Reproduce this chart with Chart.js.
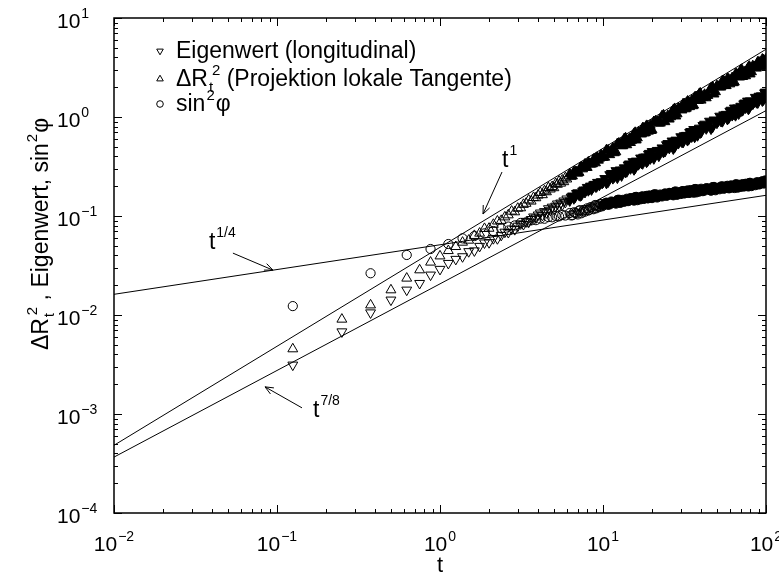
<!DOCTYPE html>
<html lang="de">
<head>
<meta charset="utf-8">
<title>ΔR², Eigenwert, sin²φ gegen t</title>
<script src="https://cdn.jsdelivr.net/npm/chart.js@4.4.1/dist/chart.umd.min.js"></script>
<style>
  html, body { margin: 0; padding: 0; background: #fff; }
  #chart { display: block; }
</style>
</head>
<body>
<canvas id="chart" width="779" height="576"></canvas>
<script>
const FONT = '"Liberation Sans", Arial, Helvetica, sans-serif';

// sampling times
const tTriEarly = [0.125, 0.25, 0.375, 0.5, 0.625, 0.75, 0.875, 1, 1.125, 1.25, 1.375, 1.5, 1.625, 1.75, 1.875, 2,
  2.125, 2.25, 2.375, 2.5, 2.625, 2.75, 2.875, 3, 3.125, 3.25, 3.375, 3.5, 3.625, 3.75, 3.875, 4,
  4.125, 4.25, 4.375, 4.5, 4.625, 4.75, 4.875, 5, 5.125, 5.25, 5.375, 5.5, 5.625, 5.75, 5.875, 6];
const tCircEarly = [0.125, 0.375, 0.625, 0.875, 1.125, 1.375, 1.625, 1.875, 2.125, 2.375, 2.625, 2.875,
  3.125, 3.375, 3.625, 3.875, 4.125, 4.375, 4.625, 4.875, 5.125, 5.375, 5.625, 5.875];
const tLateA = [6.25, 6.5, 6.75, 7, 7.25, 7.5, 7.75, 8, 8.25, 8.5, 8.75, 9, 9.25, 9.5, 9.75, 10,
  10.5, 11, 11.5, 12, 12.5, 13, 13.5, 14, 14.5, 15, 15.5, 16, 16.5, 17, 17.5, 18, 18.5, 19, 19.5, 20,
  21, 22, 23, 24, 25, 26, 27, 28, 29, 30, 31, 32, 33, 34, 35, 36, 37, 38, 39, 40,
  42, 44, 46, 48, 50, 52, 54, 56, 58, 60, 62, 64, 66, 68, 70, 72, 74, 76, 78, 80,
  83, 86, 89, 92, 95, 98, 100];
const tLateB = [6.375, 6.625, 6.875, 7.125, 7.375, 7.625, 7.875, 8.125, 8.375, 8.625, 8.875, 9.125, 9.375, 9.625, 9.875,
  10.25, 10.75, 11.25, 11.75, 12.25, 12.75, 13.25, 13.75, 14.25, 14.75, 15.25, 15.75, 16.25, 16.75, 17.25, 17.75, 18.25, 18.75, 19.25, 19.75,
  20.5, 21.5, 22.5, 23.5, 24.5, 25.5, 26.5, 27.5, 28.5, 29.5, 30.5, 31.5, 32.5, 33.5, 34.5, 35.5, 36.5, 37.5, 38.5, 39.5,
  41, 43, 45, 47, 49, 51, 53, 55, 57, 59, 61, 63, 65, 67, 69, 71, 73, 75, 77, 79,
  81.5, 84.5, 87.5, 90.5, 93.5, 96.5, 99];

// Eigenwert (longitudinal)
const eigenwertEarly = [0.00313, 0.00678, 0.01054, 0.0142, 0.0179, 0.0209, 0.0254, 0.0290, 0.0333, 0.0366,
  0.0389, 0.0438, 0.0446, 0.0495, 0.0536, 0.0540, 0.0593, 0.0592, 0.0640, 0.0689,
  0.0684, 0.0742, 0.0732, 0.0792, 0.0836, 0.0824, 0.0886, 0.0870, 0.0924, 0.0981, 0.0960, 0.1027,
  0.1075, 0.1019, 0.1111, 0.1083, 0.1188, 0.1146, 0.1232, 0.1174, 0.1261, 0.1327, 0.1263, 0.1356, 0.1301, 0.1422, 0.1379, 0.1490];
const eigenwertLateA = [0.1426, 0.1597, 0.1556, 0.1720, 0.1605, 0.1791, 0.1736, 0.1950, 0.1871, 0.1843, 0.2069, 0.1978, 0.2192, 0.2052, 0.2230, 0.2190,
  0.2145, 0.2622, 0.2397, 0.2880, 0.2632, 0.2554, 0.3075, 0.2814, 0.3365, 0.3211, 0.2944, 0.3598, 0.3316, 0.3863, 0.3381, 0.3874, 0.3510, 0.4217, 0.3793, 0.4491,
  0.4132, 0.4037, 0.4888, 0.4499, 0.5405, 0.5183, 0.4773, 0.5857, 0.5417, 0.6335, 0.5561, 0.6392, 0.5809, 0.6998, 0.6314, 0.7492, 0.6766, 0.6496, 0.7741, 0.7016,
  0.8489, 0.8191, 0.7586, 0.9357, 0.8701, 1.0222, 0.9014, 1.0402, 0.9488, 1.1472, 1.0383, 1.2360, 1.1194, 1.0778, 1.2874, 1.1700, 1.3893, 1.3176, 1.2010, 1.4597,
  1.3523, 1.5836, 1.3922, 1.6023, 1.4575, 1.7577, 1.5738];
const eigenwertLateB = [0.1555, 0.1500, 0.1694, 0.1631, 0.1629, 0.1836, 0.1833, 0.1809, 0.2011, 0.1926, 0.2095, 0.1980, 0.2154, 0.2140, 0.2144,
  0.2397, 0.2212, 0.2698, 0.2493, 0.2425, 0.2927, 0.2911, 0.2771, 0.3284, 0.3009, 0.3549, 0.3053, 0.3545, 0.3464, 0.3411, 0.3939, 0.3960, 0.3590, 0.4304, 0.3918,
  0.3797, 0.4609, 0.4614, 0.4417, 0.5263, 0.4843, 0.5738, 0.4956, 0.5779, 0.5670, 0.5600, 0.6487, 0.6543, 0.5949, 0.7154, 0.6526, 0.6273, 0.7480, 0.7365, 0.6939,
  0.8236, 0.7630, 0.9096, 0.7901, 0.9262, 0.9130, 0.9058, 1.0536, 1.0666, 0.9736, 1.1745, 1.0750, 1.0362, 1.2394, 1.2235, 1.1559, 1.3606, 1.2381, 1.4517, 1.2413,
  1.4419, 1.4166, 1.4010, 1.6248, 1.6406, 1.4935, 1.7899];

// ΔR_t² (Projektion lokale Tangente)
const deltaR2Early = [0.00454, 0.00905, 0.0126, 0.0179, 0.0235, 0.0285, 0.0341, 0.0394, 0.0446, 0.0490,
  0.0542, 0.0568, 0.0634, 0.0669, 0.0746, 0.0750, 0.0821, 0.0887, 0.0900, 0.0976,
  0.1024, 0.1116, 0.1099, 0.1194, 0.1206, 0.1306, 0.1340, 0.1446, 0.1410, 0.1534, 0.1523, 0.1620,
  0.1720, 0.1636, 0.1789, 0.1751, 0.1929, 0.1867, 0.1975, 0.1925, 0.2117, 0.2084, 0.2241, 0.2140, 0.2301, 0.2214, 0.2427, 0.2358];
const deltaR2LateA = [0.2664, 0.2533, 0.2795, 0.2700, 0.3061, 0.2984, 0.3335, 0.3086, 0.3383, 0.3347, 0.3730, 0.3435, 0.3868, 0.3818, 0.4156, 0.3898,
  0.4647, 0.4153, 0.4856, 0.4434, 0.5430, 0.5120, 0.6029, 0.5229, 0.6005, 0.5786, 0.6796, 0.5846, 0.7034, 0.6764, 0.7744, 0.6870, 0.8187, 0.7174, 0.8234, 0.7389,
  0.9100, 0.8643, 1.0247, 0.8942, 1.0328, 1.0004, 1.1810, 1.0206, 1.2332, 1.1907, 1.3550, 1.2062, 1.4424, 1.2680, 1.4596, 1.3137, 1.5876, 1.4781, 1.7203, 1.4757,
  1.6879, 1.6469, 1.9574, 1.7021, 2.0685, 2.0078, 2.3191, 2.0740, 2.4403, 2.1539, 2.4889, 2.2481, 2.7259, 2.5461, 2.9722, 2.5569, 2.8456, 2.7219, 3.1758, 2.7144,
  3.2856, 3.1774, 3.5894, 3.1998, 3.8314, 3.3722, 3.8480];
const deltaR2LateB = [0.2510, 0.2798, 0.2791, 0.2748, 0.3144, 0.3158, 0.3101, 0.3497, 0.3332, 0.3362, 0.3711, 0.3890, 0.3654, 0.3947, 0.3929,
  0.3912, 0.4627, 0.4568, 0.4342, 0.5372, 0.5332, 0.5111, 0.6141, 0.5612, 0.5510, 0.6502, 0.6971, 0.6136, 0.6869, 0.6724, 0.7711, 0.6965, 0.8070, 0.7816, 0.7297,
  0.8967, 0.8969, 0.8657, 1.0470, 0.9625, 0.9502, 1.1270, 1.2140, 1.0735, 1.2067, 1.1742, 1.3516, 1.2251, 1.4240, 1.3835, 1.2955, 1.5808, 1.5489, 1.4667, 1.7424,
  1.5669, 1.5587, 1.8617, 2.0185, 1.7955, 2.0295, 2.0047, 2.3187, 2.0682, 2.4140, 2.3546, 2.2129, 2.7097, 2.6638, 2.5302, 3.0147, 2.6695, 2.6013, 3.0480, 3.2463,
  2.8575, 3.2176, 3.1080, 3.5829, 3.2519, 3.7847, 3.6630];

// sin²φ
const sin2phiEarly = [0.0123, 0.0264, 0.0404, 0.0464, 0.0521, 0.0595, 0.0628, 0.0668, 0.0705, 0.0750,
  0.0782, 0.0803, 0.0851, 0.0862, 0.0904, 0.0908, 0.0941, 0.0938, 0.0976, 0.0971, 0.1003, 0.0992, 0.1024, 0.1011];
const sin2phiLateA = [0.1071, 0.1019, 0.1076, 0.1037, 0.1144, 0.1109, 0.1106, 0.1195, 0.1156, 0.1224, 0.1171, 0.1290, 0.1255, 0.1232, 0.1324, 0.1274,
  0.1365, 0.1310, 0.1384, 0.1334, 0.1461, 0.1406, 0.1392, 0.1494, 0.1436, 0.1510, 0.1430, 0.1560, 0.1510, 0.1474, 0.1576, 0.1509, 0.1597, 0.1513, 0.1586, 0.1517,
  0.1659, 0.1594, 0.1576, 0.1689, 0.1622, 0.1703, 0.1618, 0.1768, 0.1710, 0.1668, 0.1785, 0.1710, 0.1811, 0.1717, 0.1798, 0.1718, 0.1872, 0.1792, 0.1765, 0.1885,
  0.1808, 0.1897, 0.1800, 0.1966, 0.1905, 0.1862, 0.1993, 0.1911, 0.2019, 0.1911, 0.2003, 0.1917, 0.2090, 0.2000, 0.1969, 0.2101, 0.2009, 0.2101, 0.1987, 0.2163,
  0.2095, 0.2047, 0.2189, 0.2112, 0.2245, 0.2144, 0.2252];
const sin2phiLateB = [0.1014, 0.1089, 0.1061, 0.1134, 0.1066, 0.1153, 0.1150, 0.1135, 0.1226, 0.1186, 0.1279, 0.1197, 0.1275, 0.1315, 0.1253,
  0.1338, 0.1297, 0.1401, 0.1366, 0.1453, 0.1356, 0.1456, 0.1442, 0.1413, 0.1516, 0.1455, 0.1555, 0.1445, 0.1530, 0.1571, 0.1489, 0.1576, 0.1508, 0.1612, 0.1559,
  0.1650, 0.1538, 0.1649, 0.1632, 0.1598, 0.1712, 0.1643, 0.1760, 0.1637, 0.1732, 0.1779, 0.1687, 0.1786, 0.1711, 0.1828, 0.1767, 0.1867, 0.1733, 0.1851, 0.1825,
  0.1782, 0.1908, 0.1830, 0.1957, 0.1821, 0.1931, 0.1985, 0.1884, 0.1994, 0.1906, 0.2036, 0.1970, 0.2083, 0.1934, 0.2066, 0.2035, 0.1984, 0.2117, 0.2024, 0.2158,
  0.2005, 0.2123, 0.2184, 0.2081, 0.2213, 0.2129, 0.2287];

// power-law guide lines, given by their values at both ends of the t range
const guideT = [0.01, 100];
const guideSlope1 = [4.83e-4, 4.83];
const guideSlope78 = [3.67e-4, 1.16];
const guideSlope14 = [0.01618, 0.1618];

// axis decades (exponents of the labelled ticks)
const xDecades = [-2, -1, 0, 1, 2];
const yDecades = [-4, -3, -2, -1, 0, 1];

const pts = (ts, vs) => ts.map((t, i) => ({ x: t, y: vs[i] }));
const series = (parts) => parts.flatMap(([ts, vs]) => pts(ts, vs));

// text made of runs: {s, f: font px, dy: baseline shift, dx: gap before, stay: do not advance}
function drawRuns(ctx, runs, x, y, measureOnly) {
  let cx = x;
  for (const r of runs) {
    ctx.font = `${r.f}px ${FONT}`;
    const w = ctx.measureText(r.s).width;
    const px = cx + (r.dx || 0);
    if (!measureOnly) ctx.fillText(r.s, px, y + (r.dy || 0));
    if (!r.stay) cx = px + w;
  }
  return cx - x;
}

function powerLabel(exp) {
  const sup = exp < 0 ? '\u2212' + (-exp) : String(exp);
  return [{ s: '10', f: 21 }, { s: sup, f: 14, dy: -10, dx: 1 }];
}

const framePlugin = {
  id: 'frameTicks',
  afterDatasetsDraw(chart) {
    const { ctx, chartArea: a, scales: { x, y } } = chart;
    ctx.save();
    ctx.strokeStyle = '#000';
    ctx.lineWidth = 1;
    ctx.beginPath();
    for (let e = xDecades[0]; e <= xDecades[xDecades.length - 1]; e++) {
      for (let m = 1; m <= 9; m++) {
        const v = m * Math.pow(10, e);
        if (v > x.max * 1.0001) break;
        const px = Math.round(x.getPixelForValue(v)) + 0.5;
        const len = m === 1 ? 8 : 4;
        ctx.moveTo(px, a.bottom); ctx.lineTo(px, a.bottom - len);
        ctx.moveTo(px, a.top); ctx.lineTo(px, a.top + len);
      }
    }
    for (let e = yDecades[0]; e <= yDecades[yDecades.length - 1]; e++) {
      for (let m = 1; m <= 9; m++) {
        const v = m * Math.pow(10, e);
        if (v > y.max * 1.0001) break;
        const py = Math.round(y.getPixelForValue(v)) + 0.5;
        const len = m === 1 ? 8 : 4;
        ctx.moveTo(a.left, py); ctx.lineTo(a.left + len, py);
        ctx.moveTo(a.right, py); ctx.lineTo(a.right - len, py);
      }
    }
    ctx.stroke();
    ctx.lineWidth = 1.5;
    ctx.strokeRect(a.left, a.top, a.right - a.left, a.bottom - a.top);
    ctx.restore();
  }
};

const labelPlugin = {
  id: 'axisLabels',
  afterDraw(chart) {
    const { ctx, chartArea: a, scales: { x, y } } = chart;
    ctx.save();
    ctx.fillStyle = '#000';
    ctx.textBaseline = 'alphabetic';
    ctx.textAlign = 'left';
    for (const e of xDecades) {
      const runs = powerLabel(e);
      const w = drawRuns(ctx, runs, 0, 0, true);
      drawRuns(ctx, runs, x.getPixelForValue(Math.pow(10, e)) - w / 2, a.bottom + 38);
    }
    for (const e of yDecades) {
      drawRuns(ctx, powerLabel(e), 57, y.getPixelForValue(Math.pow(10, e)) + 10);
    }
    // x title
    ctx.font = `22px ${FONT}`;
    const tw = ctx.measureText('t').width;
    ctx.fillText('t', (a.left + a.right) / 2 - tw / 2, a.bottom + 59);
    // y title
    const title = [
      { s: '\u0394R', f: 23 },
      { s: 't', f: 15, dy: 6, dx: 1, stay: true },
      { s: '2', f: 15, dy: -11, dx: 3 },
      { s: ' , Eigenwert, sin', f: 23 },
      { s: '2', f: 15, dy: -11, dx: 1 },
      { s: '\u03C6', f: 23, dx: 1 }
    ];
    const w = drawRuns(ctx, title, 0, 0, true);
    ctx.translate(48, 234);
    ctx.rotate(-Math.PI / 2);
    drawRuns(ctx, title, -w / 2, 0);
    ctx.restore();
  }
};

const legendPlugin = {
  id: 'keyBox',
  afterDraw(chart) {
    const { ctx } = chart;
    const rows = [
      { style: { pointStyle: 'triangle', rotation: 180, radius: 3.8, borderWidth: 1 }, base: 58,
        runs: [{ s: 'Eigenwert (longitudinal)', f: 23 }] },
      { style: { pointStyle: 'triangle', rotation: 0, radius: 3.8, borderWidth: 1 }, base: 86,
        runs: [{ s: '\u0394R', f: 23 }, { s: 't', f: 15, dy: 6, dx: 1, stay: true },
               { s: '2', f: 15, dy: -11, dx: 4 }, { s: ' (Projektion lokale Tangente)', f: 23 }] },
      { style: { pointStyle: 'circle', rotation: 0, radius: 3.3, borderWidth: 1 }, base: 111,
        runs: [{ s: 'sin', f: 23 }, { s: '2', f: 15, dy: -11, dx: 1 }, { s: '\u03C6', f: 23, dx: 1 }] }
    ];
    ctx.save();
    for (const r of rows) {
      ctx.strokeStyle = '#000';
      ctx.fillStyle = 'rgba(0,0,0,0)';
      ctx.lineWidth = 1;
      Chart.helpers.drawPoint(ctx, r.style, 160, r.base - 7);
      ctx.fillStyle = '#000';
      ctx.textBaseline = 'alphabetic';
      ctx.textAlign = 'left';
      drawRuns(ctx, r.runs, 176, r.base);
    }
    ctx.restore();
  }
};

const notesPlugin = {
  id: 'guideNotes',
  afterDraw(chart) {
    const { ctx, scales: { x, y } } = chart;
    const notes = [
      { tip: [0.0944, 0.0284], tail: [-40, -17], label: [-64, -21], exp: '1/4' },
      { tip: [0.0844, 0.00188], tail: [37, 21], label: [48, 30], exp: '7/8' },
      { tip: [1.836, 0.1047], tail: [19, -42], label: [19, -47], exp: '1' }
    ];
    ctx.save();
    ctx.strokeStyle = '#000';
    ctx.fillStyle = '#000';
    ctx.lineWidth = 1;
    for (const n of notes) {
      const tx = x.getPixelForValue(n.tip[0]);
      const ty = y.getPixelForValue(n.tip[1]);
      const sx = tx + n.tail[0], sy = ty + n.tail[1];
      const ang = Math.atan2(ty - sy, tx - sx);
      ctx.beginPath();
      ctx.moveTo(sx, sy); ctx.lineTo(tx, ty);
      for (const d of [-0.4, 0.4]) {
        ctx.moveTo(tx, ty);
        ctx.lineTo(tx - 9 * Math.cos(ang + d), ty - 9 * Math.sin(ang + d));
      }
      ctx.stroke();
      ctx.textBaseline = 'alphabetic';
      ctx.textAlign = 'left';
      drawRuns(ctx, [{ s: 't', f: 23 }, { s: n.exp, f: 14, dy: -12, dx: 1 }], tx + n.label[0], ty + n.label[1]);
    }
    ctx.restore();
  }
};

const guide = (vals) => ({
  data: pts(guideT, vals), showLine: true, borderColor: '#000', borderWidth: 1,
  pointRadius: 0, fill: false, tension: 0
});
// open markers; where the samples crowd together the symbols merge into a solid band
const marks = (label, data, style, rotation, radius, solidFrom) => ({
  label, data, showLine: false,
  pointStyle: style, pointRotation: rotation, pointRadius: radius,
  pointBorderColor: '#000', borderColor: '#000', pointBorderWidth: 1,
  pointBackgroundColor: (c) => (c.raw && c.raw.x >= solidFrom) ? '#000' : 'rgba(0,0,0,0)',
  backgroundColor: 'rgba(0,0,0,0)'
});

new Chart(document.getElementById('chart'), {
  type: 'scatter',
  data: {
    datasets: [
      guide(guideSlope1),
      guide(guideSlope78),
      guide(guideSlope14),
      marks('Eigenwert (longitudinal)',
        series([[tTriEarly, eigenwertEarly], [tLateA, eigenwertLateA], [tLateB, eigenwertLateB]]),
        'triangle', 180, 5.7, 6.25),
      marks('\u0394R_t\u00B2 (Projektion lokale Tangente)',
        series([[tTriEarly, deltaR2Early], [tLateA, deltaR2LateA], [tLateB, deltaR2LateB]]),
        'triangle', 0, 5.7, 6.25),
      marks('sin\u00B2\u03C6',
        series([[tCircEarly, sin2phiEarly], [tLateA, sin2phiLateA], [tLateB, sin2phiLateB]]),
        'circle', 0, 4.6, 10)
    ]
  },
  options: {
    responsive: false,
    animation: false,
    devicePixelRatio: 1,
    events: [],
    layout: { padding: { left: 114, right: 13, top: 18, bottom: 63 } },
    plugins: { legend: { display: false }, tooltip: { enabled: false } },
    scales: {
      x: { type: 'logarithmic', min: 0.01, max: 100, display: false },
      y: { type: 'logarithmic', min: 1e-4, max: 10, display: false }
    }
  },
  plugins: [framePlugin, labelPlugin, legendPlugin, notesPlugin]
});
</script>
</body>
</html>
